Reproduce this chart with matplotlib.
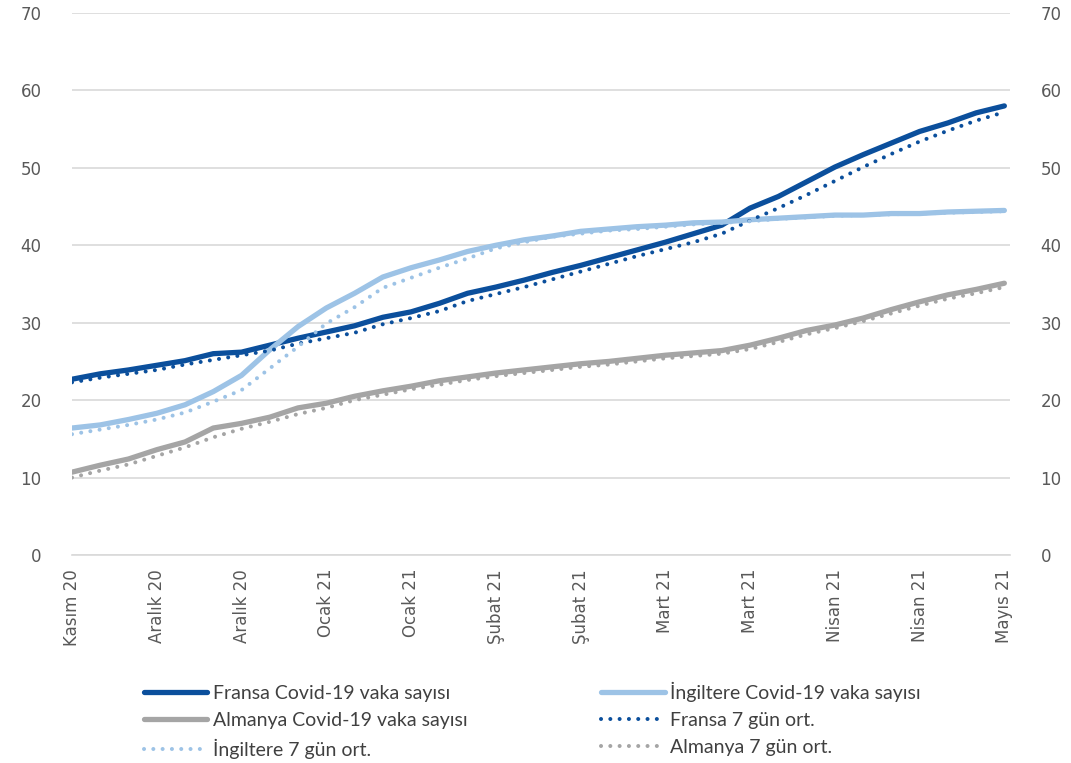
import matplotlib
matplotlib.use("Agg")
import matplotlib.pyplot as plt
import pandas as pd

# Dates (every 5 days from 20 Nov 2020)
start_date = "2020-11-20"
n_points = 34
dates = pd.date_range(start_date, periods=n_points, freq="5D")

fransa = [22.7, 23.4, 23.9, 24.5, 25.1, 26.0, 26.2, 27.1, 28.0, 28.8, 29.6, 30.7,
          31.4, 32.5, 33.8, 34.6, 35.5, 36.5, 37.4, 38.4, 39.4, 40.4, 41.5, 42.6,
          44.8, 46.3, 48.2, 50.1, 51.7, 53.2, 54.7, 55.8, 57.1, 58.0]
ingiltere = [16.4, 16.8, 17.5, 18.3, 19.4, 21.1, 23.2, 26.5, 29.5, 31.9, 33.8, 35.9,
             37.1, 38.1, 39.2, 40.0, 40.7, 41.2, 41.8, 42.1, 42.4, 42.6, 42.9, 43.0,
             43.3, 43.5, 43.7, 43.9, 43.9, 44.1, 44.1, 44.3, 44.4, 44.5]
almanya = [10.7, 11.6, 12.4, 13.6, 14.6, 16.4, 17.0, 17.8, 19.0, 19.6, 20.5, 21.2,
           21.8, 22.5, 23.0, 23.5, 23.9, 24.3, 24.7, 25.0, 25.4, 25.8, 26.1, 26.4,
           27.1, 28.0, 29.0, 29.7, 30.6, 31.7, 32.7, 33.6, 34.3, 35.1]
fransa_7g = [22.3, 22.9, 23.4, 23.9, 24.6, 25.2, 25.8, 26.4, 27.3, 28.0, 28.7, 29.8,
             30.6, 31.5, 32.8, 33.7, 34.6, 35.6, 36.6, 37.6, 38.6, 39.5, 40.4, 41.5,
             43.2, 44.8, 46.5, 48.3, 50.1, 51.8, 53.4, 54.8, 56.1, 57.2]
ingiltere_7g = [15.6, 16.2, 16.8, 17.5, 18.4, 19.8, 21.3, 24.1, 26.9, 29.9, 32.0, 34.5,
                35.8, 37.1, 38.3, 39.6, 40.4, 41.1, 41.5, 41.9, 42.1, 42.4, 42.7, 42.9,
                43.1, 43.4, 43.6, 43.8, 43.9, 44.0, 44.1, 44.2, 44.3, 44.4]
almanya_7g = [10.0, 10.9, 11.7, 12.8, 13.9, 15.2, 16.3, 17.2, 18.2, 19.0, 20.0, 20.7,
              21.4, 22.0, 22.6, 23.1, 23.5, 23.9, 24.3, 24.6, 25.0, 25.4, 25.7, 26.0,
              26.6, 27.5, 28.5, 29.3, 30.2, 31.2, 32.2, 33.1, 33.8, 34.6]

labels = ["Fransa Covid-19 vaka sayısı", "İngiltere Covid-19 vaka sayısı",
          "Almanya Covid-19 vaka sayısı", "Fransa 7 gün ort.",
          "İngiltere 7 gün ort.", "Almanya 7 gün ort."]
month_names = ["Ocak", "Şubat", "Mart", "Nisan", "Mayıs", "Haziran", "Temmuz",
               "Ağustos", "Eylül", "Ekim", "Kasım", "Aralık"]
y_ticks = [0, 10, 20, 30, 40, 50, 60, 70]

DARK = "#0B4F9C"
LIGHT = "#9DC3E6"
GRAY = "#A5A5A5"
TXT = "#595959"

fig = plt.figure(figsize=(10.71, 7.63), dpi=100)
ax = fig.add_axes([72/1071, 1-555/763, (1010-72)/1071, (555-13)/763])

lw_s = 3.8
lw_d = 2.9
dot = (0, (0.01, 2.3))
l1, = ax.plot(dates, fransa, color=DARK, lw=lw_s, solid_capstyle="round", solid_joinstyle="round")
l2, = ax.plot(dates, ingiltere, color=LIGHT, lw=lw_s, solid_capstyle="round", solid_joinstyle="round")
l3, = ax.plot(dates, almanya, color=GRAY, lw=lw_s, solid_capstyle="round", solid_joinstyle="round")
l4, = ax.plot(dates, fransa_7g, color=DARK, lw=lw_d, linestyle=dot, dash_capstyle="round")
l5, = ax.plot(dates, ingiltere_7g, color=LIGHT, lw=lw_d, linestyle=dot, dash_capstyle="round")
l6, = ax.plot(dates, almanya_7g, color=GRAY, lw=lw_d, linestyle=dot, dash_capstyle="round")

x0 = dates[0]
x1 = dates[-1] + pd.Timedelta(days=1)
ax.set_xlim(x0, x1)
ax.set_ylim(0, 70)
ax.set_yticks(y_ticks)
ax.grid(axis="y", color="#D9D9D9", lw=1.2)
ax.set_axisbelow(True)
for s in ["top", "right", "left"]:
    ax.spines[s].set_visible(False)
ax.spines["bottom"].set_color("#D9D9D9")
ax.spines["bottom"].set_linewidth(1.2)

tick_dates = pd.date_range(start_date, dates[-1], freq="15D")
ax.set_xticks(tick_dates)
ax.set_xticklabels([f"{month_names[d.month-1]} {d.year % 100}" for d in tick_dates],
                   rotation=90, fontsize=12, color=TXT)
ax.tick_params(axis="x", length=0, pad=10)
ax.tick_params(axis="y", length=0, labelsize=12, labelcolor=TXT, pad=22)

ax2 = ax.twinx()
ax2.set_ylim(0, 70)
ax2.set_yticks(y_ticks)
ax2.tick_params(axis="y", length=0, labelsize=12, labelcolor=TXT, pad=22)
for s in ax2.spines.values():
    s.set_visible(False)

handles = [l1, l3, l5, l2, l4, l6]
leg_labels = [labels[0], labels[2], labels[4], labels[1], labels[3], labels[5]]
fig.legend(handles, leg_labels, ncol=2, loc="upper left",
           bbox_to_anchor=(126/1071, 1-664/763), frameon=False,
           prop={"family": ["Lato", "DejaVu Sans"], "size": 14},
           labelcolor="#404040", handlelength=3.25, handletextpad=0.3,
           columnspacing=6.9, labelspacing=0.52)

fig.savefig("out.png", dpi=100)
